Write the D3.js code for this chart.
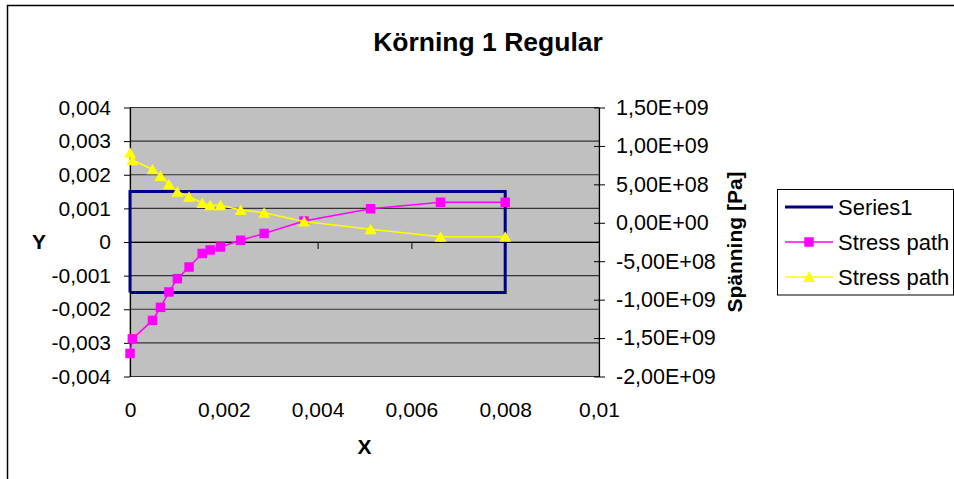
<!DOCTYPE html>
<html>
<head>
<meta charset="utf-8">
<script src="https://cdn.jsdelivr.net/npm/d3@7"></script>
<style>
  body { margin: 0; background: #fff; }
  text { font-family: "Liberation Sans", Arial, sans-serif; fill: #000; }
</style>
</head>
<body>
<svg id="chart" width="954" height="479"></svg>
<script>
// Strain values along the path (X)
const strainX = [0, 0.00005, 0.00048, 0.00065, 0.00083, 0.00101, 0.00126, 0.00154,
                 0.00171, 0.00193, 0.00236, 0.00286, 0.00371, 0.00513, 0.00662, 0.008];
// Stress path, first component [Pa]
const stressPathA = [-1.70e9, -1.51e9, -1.27e9, -1.10e9, -9.00e8, -7.27e8, -5.75e8, -3.99e8,
                     -3.54e8, -3.15e8, -2.28e8, -1.39e8, 2.3e7, 1.83e8, 2.67e8, 2.67e8];
// Stress path, second component [Pa]
const stressPathB = [9.11e8, 8.14e8, 6.97e8, 6.09e8, 5.01e8, 4.05e8, 3.40e8, 2.58e8,
                     2.29e8, 2.29e8, 1.67e8, 1.31e8, 1.7e7, -8.5e7, -1.81e8, -1.81e8];
// Series1: rectangular outline
const series1X = [0, 0, 0.008, 0.008, 0];
const series1Y = [-0.0015, 0.0015, 0.0015, -0.0015, -0.0015];

// Tick values
const xTicks = [0, 0.002, 0.004, 0.006, 0.008, 0.01];
const yTicks = [-0.004, -0.003, -0.002, -0.001, 0, 0.001, 0.002, 0.003, 0.004];
const y2Ticks = [-2e9, -1.5e9, -1e9, -5e8, 0, 5e8, 1e9, 1.5e9];

const legendLabels = ["Series1", "Stress path", "Stress path"];

const svg = d3.select("#chart");
const plot = { left: 130, right: 599, top: 107.5, bottom: 376.5 };

const x = d3.scaleLinear().domain([0, 0.01]).range([plot.left, plot.right]);
const y = d3.scaleLinear().domain([-0.004, 0.004]).range([plot.bottom, plot.top]);
const y2 = d3.scaleLinear().domain([-2e9, 1.5e9]).range([plot.bottom, plot.top]);

// Decimal comma formatting
const fmtDec = v => (Math.abs(v) < 1e-12 ? "0" : String(+v.toFixed(6)).replace(".", ","));
const fmtExp = v => {
  const [m, e] = v.toExponential(2).split("e");
  const sign = e[0] === "-" ? "-" : "+";
  const digits = e.replace(/[+-]/, "").padStart(2, "0");
  return m.replace(".", ",") + "E" + sign + digits;
};

// Chart area border
svg.append("rect")
  .attr("x", 7.5).attr("y", 5.5).attr("width", 960).attr("height", 490)
  .attr("fill", "#fff").attr("stroke", "#000").attr("stroke-width", 1.5);

// Title
svg.append("text")
  .attr("x", 488).attr("y", 51)
  .attr("text-anchor", "middle")
  .style("font-size", "26.5px").style("font-weight", "bold")
  .text("Körning 1 Regular");

// Plot area
svg.append("rect")
  .attr("x", plot.left).attr("y", plot.top)
  .attr("width", plot.right - plot.left).attr("height", plot.bottom - plot.top)
  .attr("fill", "#c0c0c0").attr("stroke", "#808080").attr("stroke-width", 1);

// Horizontal gridlines
svg.append("g")
  .selectAll("line")
  .data(yTicks)
  .join("line")
  .attr("x1", plot.left).attr("x2", plot.right)
  .attr("y1", d => y(d)).attr("y2", d => y(d))
  .attr("stroke", "#333").attr("stroke-width", 1.1);

// Left axis
const gLeft = svg.append("g")
  .attr("transform", `translate(${plot.left},0)`)
  .call(d3.axisLeft(y).tickValues(yTicks).tickFormat(fmtDec)
    .tickSize(6).tickSizeOuter(0).tickPadding(13));
gLeft.selectAll("text").style("font-size", "21px").style("font-family", "Liberation Sans, Arial, sans-serif");

// Right axis
const gRight = svg.append("g")
  .attr("transform", `translate(${plot.right},0)`)
  .call(d3.axisRight(y2).tickValues(y2Ticks).tickFormat(fmtExp)
    .tickSize(6).tickSizeOuter(0).tickPadding(11));
gRight.selectAll(".tick line").attr("x1", -5);
gRight.selectAll("text").style("font-size", "21.5px").style("font-family", "Liberation Sans, Arial, sans-serif");

// X axis crossing at Y = 0, labels at the bottom
const y0 = y(0);
const gX = svg.append("g")
  .attr("transform", `translate(0,${y0})`)
  .call(d3.axisBottom(x).tickValues(xTicks).tickFormat(fmtDec)
    .tickSize(7).tickSizeOuter(0));
gX.selectAll("text")
  .attr("y", 410 - y0).attr("dy", "0.35em")
  .style("font-size", "21px").style("font-family", "Liberation Sans, Arial, sans-serif");

[gLeft, gRight, gX].forEach(g => {
  g.selectAll("path.domain").attr("stroke", "#000").attr("stroke-width", 1.2);
  g.selectAll(".tick line").attr("stroke", "#000");
});

// Axis titles
svg.append("text")
  .attr("x", 39).attr("y", 242).attr("dy", "0.35em")
  .attr("text-anchor", "middle")
  .style("font-size", "21px").style("font-weight", "bold")
  .text("Y");
svg.append("text")
  .attr("x", (plot.left + plot.right) / 2).attr("y", 454)
  .attr("text-anchor", "middle")
  .style("font-size", "21px").style("font-weight", "bold")
  .text("X");
svg.append("text")
  .attr("transform", `translate(742,${(plot.top + plot.bottom) / 2}) rotate(-90)`)
  .attr("text-anchor", "middle")
  .style("font-size", "21px").style("font-weight", "bold")
  .text("Spänning [Pa]");

// Series1 outline
const boxPts = series1X.map((d, i) => [x(d), y(series1Y[i])]);
svg.append("path")
  .attr("d", d3.line()(boxPts))
  .attr("fill", "none").attr("stroke", "#000080").attr("stroke-width", 3);

// Stress path A (squares)
const ptsA = strainX.map((d, i) => [x(d), y2(stressPathA[i])]);
svg.append("path")
  .attr("d", d3.line()(ptsA))
  .attr("fill", "none").attr("stroke", "#ff00ff").attr("stroke-width", 1.5);
svg.append("g").selectAll("path")
  .data(ptsA)
  .join("path")
  .attr("d", d3.symbol(d3.symbolSquare, 90)())
  .attr("transform", d => `translate(${d[0]},${d[1]})`)
  .attr("fill", "#ff00ff");

// Stress path B (triangles)
const ptsB = strainX.map((d, i) => [x(d), y2(stressPathB[i])]);
svg.append("path")
  .attr("d", d3.line()(ptsB))
  .attr("fill", "none").attr("stroke", "#ffff00").attr("stroke-width", 1.6);
const tri = "M0,-5.5L6,5L-6,5Z";
svg.append("g").selectAll("path")
  .data(ptsB)
  .join("path")
  .attr("d", tri)
  .attr("transform", d => `translate(${d[0]},${d[1]})`)
  .attr("fill", "#ffff00");

// Legend
const lg = svg.append("g");
lg.append("rect")
  .attr("x", 777.5).attr("y", 189.5).attr("width", 176).attr("height", 105.5)
  .attr("fill", "#fff").attr("stroke", "#000").attr("stroke-width", 1);
const legendRows = [
  { label: legendLabels[0], color: "#000080", width: 3, marker: null },
  { label: legendLabels[1], color: "#ff00ff", width: 1.5, marker: "square" },
  { label: legendLabels[2], color: "#ffff00", width: 1.6, marker: "triangle" }
];
const rowY = [207, 242, 277];
legendRows.forEach((r, i) => {
  const cy = rowY[i];
  lg.append("line")
    .attr("x1", 785).attr("x2", 833).attr("y1", cy).attr("y2", cy)
    .attr("stroke", r.color).attr("stroke-width", r.width);
  if (r.marker === "square") {
    lg.append("path").attr("d", d3.symbol(d3.symbolSquare, 90)())
      .attr("transform", `translate(809,${cy})`).attr("fill", r.color);
  } else if (r.marker === "triangle") {
    lg.append("path").attr("d", tri)
      .attr("transform", `translate(809,${cy})`).attr("fill", r.color);
  }
  lg.append("text")
    .attr("x", 838).attr("y", cy).attr("dy", "0.35em")
    .style("font-size", "22px")
    .text(r.label);
});
</script>
</body>
</html>
